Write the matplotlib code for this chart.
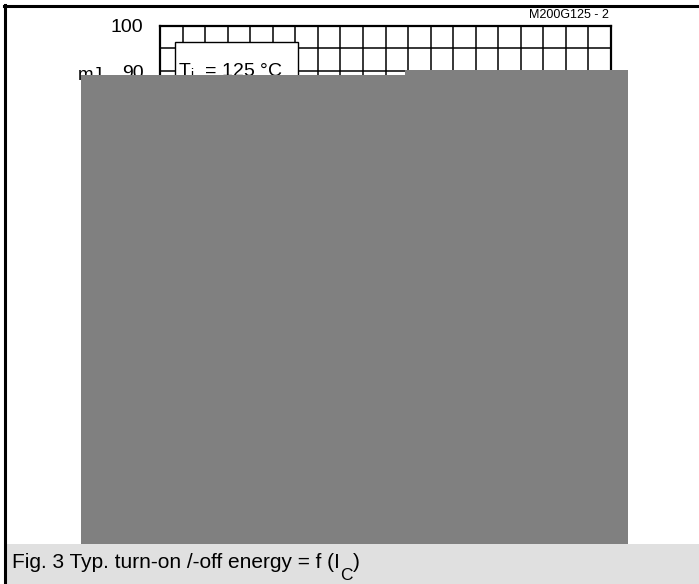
import matplotlib
matplotlib.use("Agg")
import matplotlib.pyplot as plt
from matplotlib.patches import Rectangle
from matplotlib.lines import Line2D

plt.rcParams['font.family'] = ['Liberation Sans', 'DejaVu Sans']

# ---- data / labels (curves are hidden under the grey mask in the reference) ----
x_limits = [0, 200]
x_grid = list(range(0, 201, 10))
y_limits = [0, 100]
y_grid = list(range(0, 101, 5))
y_tick_values = [0, 10, 20, 30, 40, 50, 60, 70, 80, 90, 100]
y_tick_labels = [str(v) for v in y_tick_values]
y_unit = "mJ"
legend_text = r"T$_\mathregular{j}$  = 125 °C"
drawing_id = "M200G125 - 2"
caption_main = "Fig. 3 Typ. turn-on /-off energy = f (I"
caption_sub = "C"
caption_end = ")"

W, H = 699, 584
fig = plt.figure(figsize=(W / 100, H / 100), dpi=100)
fig.patch.set_facecolor("white")

def fx(px):
    return px / W

def fy(py):
    return 1 - py / H

# axes: left 160, right 611, top 25.7, bottom 481 (pixels)
ax = fig.add_axes([fx(160), fy(481), fx(611) - fx(160), fy(25.7) - fy(481)])
ax.set_xlim(*x_limits)
ax.set_ylim(*y_limits)
for v in x_grid:
    ax.axvline(v, color="black", lw=1.1, zorder=1)
for v in y_grid:
    ax.axhline(v, color="black", lw=1.1, zorder=1)
ax.set_xticks([])
ax.set_yticks(y_tick_values)
ax.set_yticklabels(y_tick_labels, fontsize=14)
ax.tick_params(axis="y", length=0, pad=12)
for s in ax.spines.values():
    s.set_linewidth(1.6)

# legend box
ax.add_patch(Rectangle((fx(175), fy(200)), fx(298) - fx(175), fy(42) - fy(200),
                       transform=fig.transFigure, facecolor="white",
                       edgecolor="black", lw=1.0, zorder=3))
fig.text(fx(178), fy(77), legend_text, fontsize=14, va="baseline", ha="left", zorder=4)

# unit label
fig.text(fx(103), fy(80), y_unit, fontsize=13.5, va="baseline", ha="right")

# drawing id
fig.text(fx(609), fy(18), drawing_id, fontsize=9, ha="right", va="baseline")

# grey masks
fig.add_artist(Rectangle((fx(81), fy(544)), fx(628) - fx(81), fy(75) - fy(544),
                         transform=fig.transFigure, facecolor="#808080",
                         edgecolor="none", zorder=10))
fig.add_artist(Rectangle((fx(405), fy(75)), fx(628) - fx(405), fy(70) - fy(75),
                         transform=fig.transFigure, facecolor="#808080",
                         edgecolor="none", zorder=10))

# caption bar
fig.add_artist(Rectangle((fx(4), 0), 1 - fx(4), fy(544),
                         transform=fig.transFigure, facecolor="#e0e0e0",
                         edgecolor="none", zorder=10))
renderer = fig.canvas.get_renderer()
t1 = fig.text(fx(12), fy(568), caption_main, fontsize=15, ha="left",
              va="baseline", zorder=11)
x_end = t1.get_window_extent(renderer).x1
t2 = fig.text(x_end / W + fx(0.5), fy(580), caption_sub, fontsize=12.5, ha="left",
              va="baseline", zorder=11)
x_end2 = t2.get_window_extent(renderer).x1
fig.text(x_end2 / W, fy(568), caption_end, fontsize=15, ha="left",
         va="baseline", zorder=11)

# frame lines (top and left)
fig.add_artist(Line2D([fx(4), 1], [fy(6), fy(6)], transform=fig.transFigure,
                      color="black", lw=2.2, zorder=12))
fig.add_artist(Line2D([fx(4.5), fx(4.5)], [fy(4.5), 0], transform=fig.transFigure,
                      color="black", lw=2.2, zorder=12))

fig.savefig("out.png", dpi=100)
